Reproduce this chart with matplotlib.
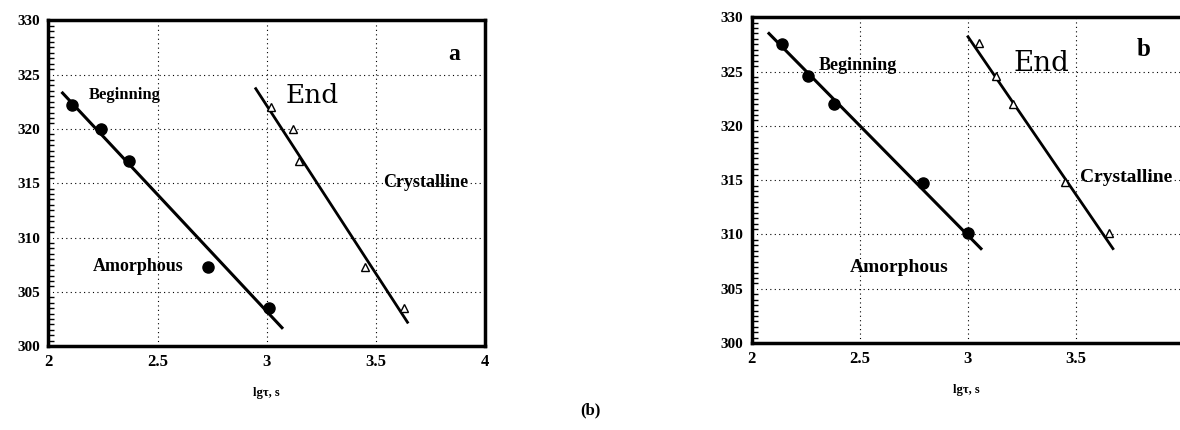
import matplotlib
matplotlib.use("Agg")
import matplotlib.pyplot as plt
from matplotlib.ticker import MultipleLocator

# panel a
a_beg_x = [2.11, 2.24, 2.37, 2.73, 3.01]
a_beg_y = [322.2, 320.0, 317.0, 307.3, 303.5]
a_beg_fit_x = [2.065, 3.07]
a_beg_fit_y = [323.3, 301.7]
a_end_x = [3.02, 3.12, 3.15, 3.45, 3.63]
a_end_y = [322.0, 320.0, 317.0, 307.3, 303.5]
a_end_fit_x = [2.95, 3.645]
a_end_fit_y = [323.7, 302.2]

# panel b
b_beg_x = [2.14, 2.26, 2.38, 2.79, 3.00]
b_beg_y = [327.5, 324.6, 322.0, 314.7, 310.1]
b_beg_fit_x = [2.08, 3.06]
b_beg_fit_y = [328.5, 308.7]
b_end_x = [3.05, 3.13, 3.21, 3.45, 3.65]
b_end_y = [327.6, 324.6, 322.0, 314.8, 310.1]
b_end_fit_x = [3.00, 3.67]
b_end_fit_y = [328.2, 308.7]

xticks = [2, 2.5, 3, 3.5, 4]
xticklabels = ["2", "2.5", "3", "3.5", "4"]
yticks = [300, 305, 310, 315, 320, 325, 330]

SERIF = ["Liberation Serif", "DejaVu Serif"]


def setup_axes(ax, xmax):
    ax.set_xlim(2, xmax)
    ax.set_ylim(300, 330)
    ax.set_xticks([t for t in xticks if t <= xmax])
    ax.set_xticklabels([l for t, l in zip(xticks, xticklabels) if t <= xmax],
                       family=SERIF, fontweight="bold", fontsize=12)
    ax.set_yticks(yticks)
    ax.set_yticklabels([str(t) for t in yticks], family=SERIF, fontweight="bold", fontsize=11)
    ax.yaxis.set_minor_locator(MultipleLocator(0.5))
    ax.tick_params(axis="y", which="minor", direction="in", length=4, width=1)
    ax.tick_params(axis="both", which="major", direction="in", length=0, pad=6)
    for s in ax.spines.values():
        s.set_linewidth(2.5)
    ax.grid(True, linestyle=(0, (1, 3)), color="black", linewidth=0.8)
    ax.set_xlabel("lgτ, s", family=SERIF, fontweight="bold", fontsize=9, labelpad=12)


def draw(ax, bx, by, bfx, bfy, ex, ey, efx, efy):
    ax.plot(bfx, bfy, color="black", linewidth=2.2)
    ax.plot(efx, efy, color="black", linewidth=2)
    ax.plot(bx, by, "o", color="black", markersize=8)
    ax.plot(ex, ey, "^", markerfacecolor="white", markeredgecolor="black", markersize=6)


fig = plt.figure(figsize=(11.8, 4.3), dpi=100)

ax1 = fig.add_axes([0.041, 0.195, 0.370, 0.758])
setup_axes(ax1, 4)
draw(ax1, a_beg_x, a_beg_y, a_beg_fit_x, a_beg_fit_y, a_end_x, a_end_y, a_end_fit_x, a_end_fit_y)
ax1.text(2.35, 323.1, "Beginning", family=SERIF, fontweight="bold", fontsize=12, ha="center", va="center")
ax1.text(3.21, 323.1, "End", family="DejaVu Serif", fontsize=19, ha="center", va="center")
ax1.text(3.86, 326.8, "a", family=SERIF, fontweight="bold", fontsize=17, ha="center", va="center")
ax1.text(3.73, 315.1, "Crystalline", family=SERIF, fontweight="bold", fontsize=13, ha="center", va="center")
ax1.text(2.41, 307.3, "Amorphous", family=SERIF, fontweight="bold", fontsize=13, ha="center", va="center")

ax2 = fig.add_axes([0.637, 0.202, 0.363, 0.758])
setup_axes(ax2, 3.98)
ax2.spines["right"].set_visible(False)
draw(ax2, b_beg_x, b_beg_y, b_beg_fit_x, b_beg_fit_y, b_end_x, b_end_y, b_end_fit_x, b_end_fit_y)
ax2.text(2.49, 325.6, "Beginning", family=SERIF, fontweight="bold", fontsize=13, ha="center", va="center")
ax2.text(3.34, 325.7, "End", family="DejaVu Serif", fontsize=20, ha="center", va="center")
ax2.text(3.81, 327.0, "b", family=SERIF, fontweight="bold", fontsize=18, ha="center", va="center")
ax2.text(3.73, 315.2, "Crystalline", family=SERIF, fontweight="bold", fontsize=14, ha="center", va="center")
ax2.text(2.68, 307.0, "Amorphous", family=SERIF, fontweight="bold", fontsize=14, ha="center", va="center")

fig.text(0.5, 0.045, "(b)", family=SERIF, fontweight="bold", fontsize=12, ha="center", va="center")

fig.savefig("out.png", dpi=100)
